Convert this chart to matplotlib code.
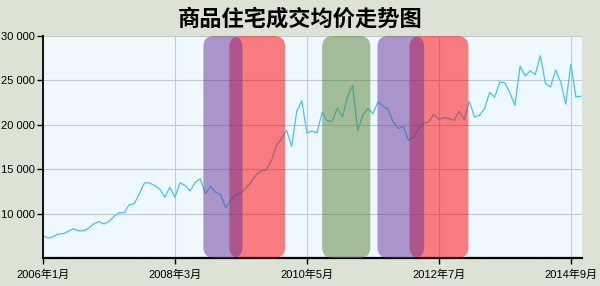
import matplotlib
matplotlib.use("Agg")
import matplotlib.pyplot as plt
import numpy as np
from matplotlib.patches import FancyBboxPatch
from matplotlib.ticker import FuncFormatter

# monthly average price, Jan 2006 .. Nov 2014
prices = [
    7500, 7250, 7400, 7700, 7750, 8000, 8300, 8050, 8060, 8340,
    8850, 9100, 8830, 9100, 9700, 10100, 10110, 11000, 11130, 12250,
    13470, 13450, 13150, 12750, 11850, 12970, 11850, 13470, 13160, 12560,
    13540, 13920, 12230, 13090, 12400, 12150, 10640, 11500, 12110, 12300,
    12900, 13540, 14370, 14780, 14930, 15990, 17680, 18440, 19380, 17570,
    21560, 22690, 19070, 19300, 19120, 21400, 20430, 20430, 21900, 20880,
    23140, 24460, 19380, 21070, 21830, 21270, 22580, 22090, 21720, 20320,
    19570, 19830, 18250, 18620, 19570, 20140, 20320, 21190, 20620, 20810,
    20700, 20510, 21530, 20590, 22660, 20880, 21070, 21830, 23640, 23100,
    24840, 24720, 23590, 22200, 26610, 25480, 26080, 25670, 27780, 24650,
    24270, 26160, 24840, 22320, 26840, 23140, 23220,
]
tick_months = [0, 26, 52, 78, 104]
tick_labels = ["2006年1月", "2008年3月", "2010年5月", "2012年7月", "2014年9月"]
y_ticks = [10000, 15000, 20000, 25000, 30000]

# policy periods (month index start, end)
red_periods = [(36.7, 47.7), (72.2, 83.8)]
purple_periods = [(31.6, 39.3), (65.9, 75.1)]
green_periods = [(55.0, 64.5)]

plt.rcParams["font.family"] = ["Liberation Sans", "Noto Sans CJK SC", "DejaVu Sans"]

fig = plt.figure(figsize=(6, 2.86), dpi=100, facecolor="#dde3d4")
ax = fig.add_axes([43 / 600, 28 / 286, 539 / 600, 222 / 286])
ax.set_facecolor("#f0f8ff")

x = np.arange(len(prices))
ax.plot(x, prices, color="#3cc8f5", lw=0.9, zorder=2)

ax.set_xlim(0, 106.2)
ax.set_ylim(5000, 30000)

# rounded shaded bands; aspect keeps corners round in pixel terms
aspect = (25000 / 222) / (106.2 / 539)


def band(a, b, color):
    p = FancyBboxPatch((a, 5000), b - a, 25000,
                       boxstyle="round,pad=0,rounding_size=2.1",
                       mutation_aspect=aspect, facecolor=color,
                       edgecolor="none", alpha=0.5, zorder=3)
    ax.add_patch(p)


for a, b in red_periods:
    band(a, b, "#ff0000")
for a, b in purple_periods:
    band(a, b, "#663399")
for a, b in green_periods:
    band(a, b, "#568231")

ax.set_yticks(y_ticks)
ax.yaxis.set_major_formatter(FuncFormatter(lambda v, p: f"{int(v):,}".replace(",", " ")))
ax.set_xticks(tick_months)
ax.set_xticklabels(tick_labels)
ax.grid(True, color="#c4c8cc", lw=0.8, zorder=1)
ax.set_axisbelow(True)

for s in ["top", "right"]:
    ax.spines[s].set_visible(False)
ax.spines["left"].set_linewidth(1.3)
ax.spines["bottom"].set_linewidth(1.6)
ax.tick_params(axis="both", labelsize=8, colors="black", width=1, length=4)
ax.tick_params(axis="y", pad=2)
ax.tick_params(axis="x", pad=4)

fig.text(0.5, 0.935, "商品住宅成交均价走势图", ha="center", va="center",
         fontsize=16, fontweight="bold", family=["Noto Sans CJK SC"])

fig.savefig("out.png", dpi=100, facecolor=fig.get_facecolor())
